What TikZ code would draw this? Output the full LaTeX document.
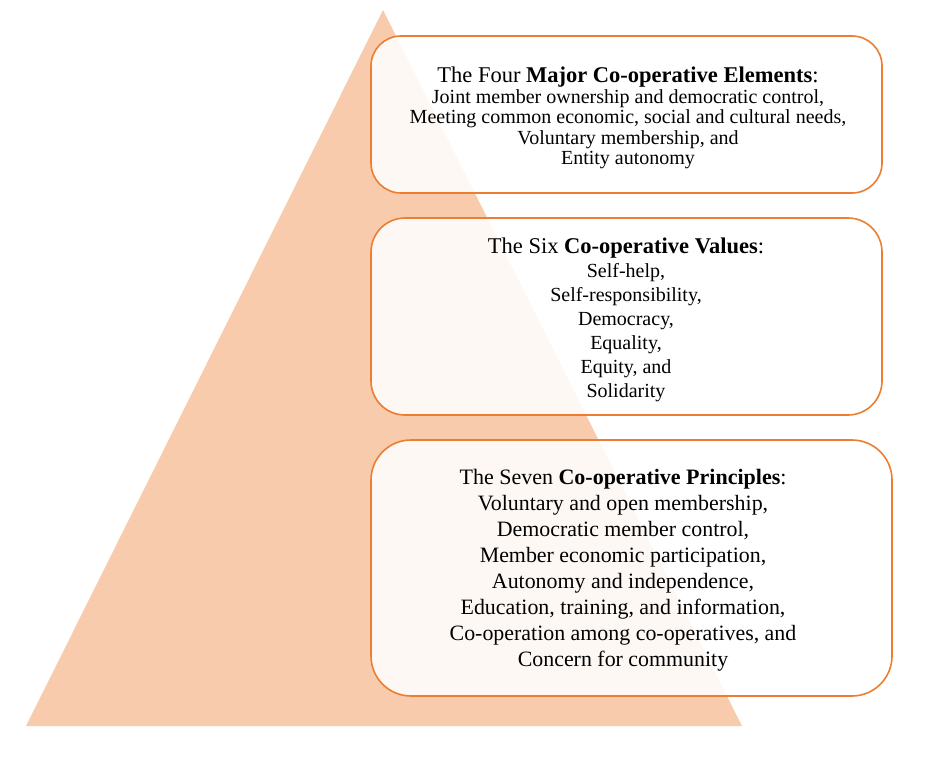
\documentclass[tikz,border=0pt]{standalone}
\usepackage{fontspec}
\setmainfont{Liberation Serif}
\definecolor{tri}{HTML}{F7CBAC}
\definecolor{edge}{HTML}{ED7D31}
\begin{document}
\begin{tikzpicture}[x=1pt,y=-1pt,
  box/.style={draw=edge,line width=1.6pt,fill=white,fill opacity=0.88,text opacity=1},
  txt/.style={align=center,text=black,inner sep=0pt}]
\useasboundingbox (0,0) rectangle (939,760);
\fill[tri] (383,10) coordinate (apex) -- (742,726) coordinate (br) -- (26,726) coordinate (bl) -- cycle;
\draw[box,rounded corners=30pt] (371,36) rectangle (882,193);
\draw[box,rounded corners=34pt] (371,218) rectangle (882,415);
\draw[box,rounded corners=40pt] (371,440) rectangle (892,696);
\node[txt,font=\fontsize{20}{20.5}\selectfont] (elements) at (628,118) {\fontsize{22.5}{24}\selectfont The Four \textbf{Major Co-operative Elements}:\\
Joint member ownership and democratic control,\\
Meeting common economic, social and cultural needs,\\
Voluntary membership, and\\
Entity autonomy};
\node[txt,font=\fontsize{20}{24}\selectfont] (values) at (626,320) {\fontsize{22.5}{24}\selectfont The Six \textbf{Co-operative Values}:\\
Self-help,\\
Self-responsibility,\\
Democracy,\\
Equality,\\
Equity, and\\
Solidarity};
\node[txt,font=\fontsize{21.9}{26}\selectfont] (principles) at (623,570) {\fontsize{22}{26}\selectfont The Seven \textbf{Co-operative Principles}:\\
Voluntary and open membership,\\
Democratic member control,\\
Member economic participation,\\
Autonomy and independence,\\
Education, training, and information,\\
Co-operation among co-operatives, and\\
Concern for community};
\end{tikzpicture}
\end{document}
